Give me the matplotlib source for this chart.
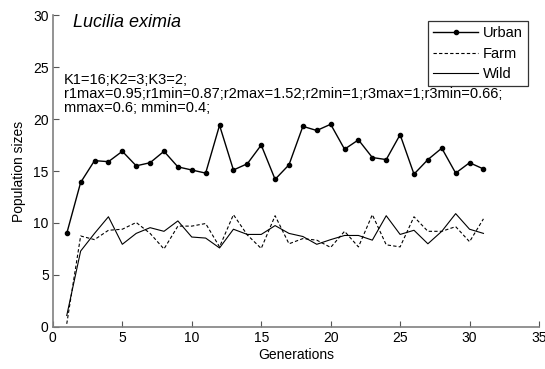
import numpy as np
import matplotlib
matplotlib.use('Agg')
from matplotlib import pyplot as plt

plt.rcParams['font.family'] = ['Liberation Sans', 'DejaVu Sans']

generations = list(range(1, 32))
urban = [9.0, 13.9, 16.0, 15.9, 16.9, 15.5, 15.8, 16.9, 15.4, 15.1, 14.8, 19.4,
         15.1, 15.7, 17.5, 14.2, 15.6, 19.3, 18.9, 19.5, 17.1, 18.0, 16.3, 16.1,
         18.5, 14.7, 16.1, 17.2, 14.8, 15.8, 15.2]
farm = [0.3, 8.75, 8.4, 9.3, 9.4, 10.05, 9.0, 7.5, 9.7, 9.7, 9.95, 7.7,
        10.8, 8.85, 7.55, 10.7, 8.0, 8.5, 8.35, 7.65, 9.2, 7.7, 10.8, 7.9,
        7.7, 10.6, 9.2, 9.2, 9.65, 8.2, 10.4]
wild = [1.1, 7.3, 9.0, 10.6, 7.95, 9.0, 9.55, 9.2, 10.2, 8.65, 8.55, 7.6,
        9.4, 8.9, 8.9, 9.75, 9.0, 8.7, 7.95, 8.4, 8.8, 8.8, 8.35, 10.7,
        8.9, 9.3, 8.0, 9.2, 10.9, 9.4, 9.0]

species = 'Lucilia eximia'
params = ['K1=16;K2=3;K3=2;',
          'r1max=0.95;r1min=0.87;r2max=1.52;r2min=1;r3max=1;r3min=0.66;',
          'mmax=0.6; mmin=0.4;']

fig = plt.figure(figsize=(5.45, 3.69), dpi=100)
ax = fig.add_axes([0.097, 0.114, 0.892, 0.845])

ax.plot(generations, urban, 'k-', marker='o', markersize=3, linewidth=1, label='Urban')
ax.plot(generations, farm, 'k--', linewidth=0.8, dashes=(3, 2), label='Farm')
ax.plot(generations, wild, 'k-', linewidth=0.8, label='Wild')

ax.set_xlim(0, 35)
ax.set_ylim(0, 30)
ax.set_xticks(np.arange(0, 36, 5))
ax.set_yticks(np.arange(0, 31, 5))
ax.tick_params(direction='in', length=4, labelsize=10, color='#555555', pad=3)
for s in ['top', 'right']:
    ax.spines[s].set_visible(False)
for s in ['left', 'bottom']:
    ax.spines[s].set_color('#808080')
    ax.spines[s].set_linewidth(1.2)

ax.set_xlabel('Generations', fontsize=10, labelpad=2)
ax.set_ylabel('Population sizes', fontsize=10, labelpad=5)

ax.text(1.45, 29.3, species, style='italic', fontsize=13, va='center')
# one text per line so the long line does not run under the legend box
for i, line in enumerate(params):
    ax.text(0.8, 23.75 - 1.35 * i, line, fontsize=10.5, va='center')

leg = ax.legend(loc='upper right', bbox_to_anchor=(0.977, 0.981), fontsize=10.5,
                frameon=True, fancybox=False, edgecolor='black',
                handlelength=3.1, handletextpad=0.3, borderpad=0.35,
                labelspacing=0.45, borderaxespad=0)
leg.get_frame().set_linewidth(0.9)

fig.savefig('out.png', dpi=100)
